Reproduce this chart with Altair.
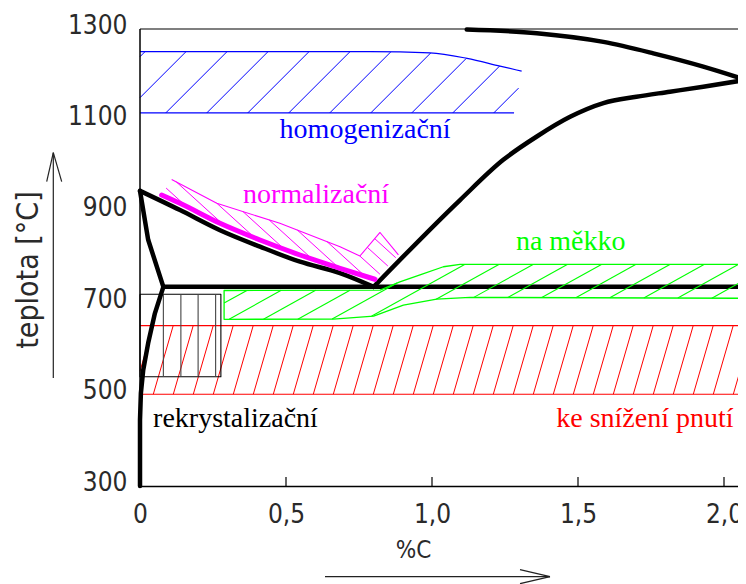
import math
import altair as alt
import pandas as pd

# ---------------- axes ----------------
X_LABEL_VALUES = [0, 0.5, 1.0, 1.5, 2.0]
X_TICK_VALUES = [0.5, 1.0, 1.5, 2.0]
Y_LABEL_VALUES = [300, 500, 700, 900, 1100, 1300]
W, H = 598, 461
XMAX = W / 292.0
YMIN = 291.25
YMAX = 1300
FRAME_T = 1291.25

# ---------------- phase diagram lines (c = %C, T = deg C) ----------------
GS_C = [0, 0.137, 0.274, 0.411, 0.548, 0.685, 0.80]
GS_T = [937, 895, 851, 815, 782, 757, 727]
GP_C = [0, 0.028, 0.08]
GP_T = [937, 830, 727]
PQ_C = [0.08, 0.051, 0.028, 0.011, 0.003, 0, 0]
PQ_T = [727, 669, 604, 545, 494, 436, 291.25]
PSK_C = [0.08, 2.1]
PSK_T = [727, 727]
SE_C = [0.80, 1.096, 1.244, 1.359, 1.473, 1.587, 1.70, 1.815, 1.929, 2.075]
SE_T = [727, 917, 1005, 1056, 1099, 1129, 1143, 1154, 1165, 1180]
AE_C = [1.119, 1.359, 1.587, 1.758, 1.929, 2.075]
AE_T = [1290, 1282, 1263, 1238, 1209, 1180]

# ---------------- annealing regions ----------------
# homogenizacni (blue)
BLUE_TOP_C = [0, 0.788, 0.993, 1.12, 1.233, 1.307]
BLUE_TOP_T = [1241.6, 1241.6, 1239, 1227, 1210, 1199]
BLUE_BOT_C = [0, 1.281]
BLUE_BOT_T = [1107.5, 1107.5]
# normalizacni (magenta)
MAG_UP_C = [0.1085, 0.263, 0.479, 0.685, 0.753, 0.822, 0.885]
MAG_UP_T = [962, 910, 866, 815, 794.5, 846, 797]
MAG_THICK_C = [0.074, 0.137, 0.274, 0.411, 0.548, 0.685, 0.805]
MAG_THICK_T = [928, 909.8, 866, 829.5, 796.7, 767.6, 743.5]
# na mekko (green)
GREEN_TOP_C = [0.288, 0.822, 0.89, 0.959, 1.039, 1.096, 2.1]
GREEN_TOP_T = [719, 720, 738, 753, 771, 776, 776]
GREEN_BOT_C = [0.288, 0.662, 0.80, 0.902, 1.016, 1.13, 2.1]
GREEN_BOT_T = [656, 656.5, 663, 687, 700, 704, 702]
# ke snizeni pnuti (red)
RED_C = [0, 2.1]
RED_LOW_T = 492
RED_HIGH_T = 642
# rekrystalizacni (black box)
REK_C = [0, 0.277]
REK_T = [530.4, 710.7]
REK_LINES_C = [0.080, 0.140, 0.199, 0.259]

# ---------------- labels ----------------
LABELS = ["homogenizační", "normalizační", "na měkko", "rekrystalizační", "ke snížení pnutí"]
LABEL_C = [0.771, 0.603, 1.475, 0.327, 1.729]
LABEL_T = [1053, 910, 808, 421, 421]
LABEL_COL = ["#0000ff", "#ff00ff", "#00ff00", "#000000", "#ff0000"]

# arrows next to axis titles (pixel positions relative to plot origin)
ARROWS = [(-86.7, 353, -86.7, 127.7), (-86.7, 127.7, -93.3, 156.7), (-86.7, 127.7, -78.3, 156.7),
          (185, 551.7, 410, 551.7), (410, 551.7, 380, 544.7), (410, 551.7, 380, 558.7)]

CAD = "Liberation Sans Narrow, DejaVu Sans Condensed, sans-serif"
SERIF = "Liberation Serif, Times New Roman, serif"
AXIS_COL = "#2a2a2a"

PX = W / XMAX
PY = H / (YMAX - YMIN)

xs = alt.Scale(domain=[0, XMAX], nice=False, zero=False)
ys = alt.Scale(domain=[YMIN, YMAX], nice=False, zero=False)

xaxis = alt.Axis(values=X_LABEL_VALUES,
                 labelExpr="datum.value == 0 ? '0' : replace(format(datum.value, '.1f'), '.', ',')",
                 ticks=False, grid=False, domain=True, domainColor="#000", domainWidth=1.5,
                 labelFont=CAD, labelFontSize=26, labelColor=AXIS_COL, labelPadding=36,
                 labelBaseline="alphabetic", labelFlush=False, labelOverlap=False,
                 title="%C", titleFont=CAD, titleFontSize=24, titleFontWeight="normal",
                 titleColor=AXIS_COL, titleX=273, titleY=64, titleBaseline="middle", titleAlign="center")
yaxis = alt.Axis(values=Y_LABEL_VALUES, format="d", ticks=False, grid=False, domain=False,
                 labelFont=CAD, labelFontSize=26, labelColor=AXIS_COL, labelPadding=13,
                 labelBaseline="middle", labelFlush=False, labelOverlap=False,
                 title="teplota [°C]", titleFont=CAD, titleFontSize=30, titleFontWeight="normal",
                 titleColor=AXIS_COL, titleAngle=270, titleX=-112, titleY=244.5,
                 titleAlign="center", titleBaseline="middle")


def X(f="c"):
    return alt.X(f"{f}:Q", scale=xs, axis=xaxis)


def Y(f="T"):
    return alt.Y(f"{f}:Q", scale=ys, axis=yaxis)


def hatch(poly, k, spacing, through, slash=True):
    """hatch line segments (data coords) clipping a family of parallel lines to polygon"""
    sgn = -1 if slash else 1
    P = [(c * PX, t * PY) for c, t in poly]
    v = [x + sgn * k * y for x, y in P]
    d0 = through[0] * PX + sgn * k * through[1] * PY
    segs = []
    n0 = math.ceil((min(v) - d0) / spacing)
    n1 = math.floor((max(v) - d0) / spacing)
    for n in range(n0, n1 + 1):
        d = d0 + n * spacing
        pts = []
        for i in range(len(P)):
            j = (i + 1) % len(P)
            f1, f2 = v[i] - d, v[j] - d
            if (f1 < 0) != (f2 < 0):
                t = f1 / (f1 - f2)
                pts.append((P[i][0] + t * (P[j][0] - P[i][0]), P[i][1] + t * (P[j][1] - P[i][1])))
        pts.sort(key=lambda p: p[1])
        for a, b in zip(pts[0::2], pts[1::2]):
            segs.append(dict(c=a[0] / PX, T=a[1] / PY, c2=b[0] / PX, T2=b[1] / PY))
    return segs


def poly_line(cs, ts, color, width, interp="linear", cap="round"):
    df = pd.DataFrame({"c": cs, "T": ts, "o": list(range(len(cs)))})
    return alt.Chart(df).mark_line(color=color, strokeWidth=width, interpolate=interp,
                                   strokeCap=cap, strokeJoin="round").encode(
        x=X(), y=Y(), order="o:Q")


def seg_layer(segs, color, width):
    df = pd.DataFrame(segs)
    return alt.Chart(df).mark_rule(color=color, strokeWidth=width).encode(
        x=X("c"), y=Y("T"), x2="c2:Q", y2="T2:Q")


layers = []

# red region
red_poly = [(RED_C[0], RED_LOW_T), (RED_C[1], RED_LOW_T), (RED_C[1], RED_HIGH_T), (RED_C[0], RED_HIGH_T)]
layers.append(seg_layer(hatch(red_poly, 0.29, 20, (0.7305, RED_LOW_T), slash=True), "#ff0000", 1))
layers.append(poly_line(RED_C, [RED_LOW_T] * 2, "#ff0000", 1.2, cap="butt"))
layers.append(poly_line(RED_C, [RED_HIGH_T] * 2, "#ff0000", 1.2, cap="butt"))

# rekrystalizacni box
rc = [REK_C[0], REK_C[1], REK_C[1], REK_C[0], REK_C[0]]
rt = [REK_T[1], REK_T[1], REK_T[0], REK_T[0], REK_T[1]]
layers.append(poly_line(rc, rt, "#000000", 1.1, cap="butt"))
layers.append(alt.Chart(pd.DataFrame({"c": REK_LINES_C, "T": [REK_T[0]] * 4, "T2": [REK_T[1]] * 4}))
              .mark_rule(color="#444444", strokeWidth=1.1).encode(x=X("c"), y=Y("T"), y2="T2:Q"))

# blue region
blue_poly = list(zip(BLUE_TOP_C, BLUE_TOP_T))[::-1] + [(0, BLUE_BOT_T[0]), (BLUE_BOT_C[1], BLUE_BOT_T[1])]
layers.append(seg_layer(hatch(blue_poly, 1.0, 41, (0.088, 1107.5), slash=True), "#0000ff", 1))
layers.append(poly_line(BLUE_TOP_C, BLUE_TOP_T, "#0000ff", 1.2, interp="monotone", cap="butt"))
layers.append(poly_line(BLUE_BOT_C, BLUE_BOT_T, "#0000ff", 1.2, cap="butt"))

# magenta region
mag_poly = list(zip(MAG_UP_C, MAG_UP_T)) + list(zip(MAG_THICK_C, MAG_THICK_T))[::-1]
layers.append(seg_layer(hatch(mag_poly, 1.1, 17, (0.263, 910), slash=False), "#ff00ff", 1))
layers.append(poly_line(MAG_UP_C, MAG_UP_T, "#ff00ff", 1.1, cap="butt"))

# black phase diagram lines
for cs, ts, it in [(GS_C, GS_T, "monotone"), (GP_C, GP_T, "linear"), (PQ_C, PQ_T, "linear"),
                   (PSK_C, PSK_T, "linear"), (SE_C, SE_T, "monotone"), (AE_C, AE_T, "monotone")]:
    layers.append(poly_line(cs, ts, "#000000", 4.5, interp=it))

# thick magenta
layers.append(poly_line(MAG_THICK_C, MAG_THICK_T, "#ff00ff", 5, interp="monotone"))

# green region
green_poly = list(zip(GREEN_TOP_C, GREEN_TOP_T)) + list(zip(GREEN_BOT_C, GREEN_BOT_T))[::-1]
layers.append(seg_layer(hatch(green_poly, 1.8, 34.2, (0.4223, 656), slash=True), "#00ff00", 1.1))
gc = GREEN_TOP_C[::-1] + GREEN_BOT_C
gt = GREEN_TOP_T[::-1] + GREEN_BOT_T
layers.append(poly_line(gc, gt, "#00ff00", 1.3, cap="butt"))

# region labels
lab = pd.DataFrame({"c": LABEL_C, "T": LABEL_T, "txt": LABELS, "col": LABEL_COL})
layers.append(alt.Chart(lab).mark_text(font=SERIF, fontSize=28, align="center", baseline="alphabetic")
              .encode(x=X(), y=Y(), text="txt:N", color=alt.Color("col:N", scale=None)))

# frame: top line, left axis line, inner ticks on x axis
layers.append(alt.Chart(pd.DataFrame({"c": [0], "c2": [XMAX], "T": [FRAME_T]}))
              .mark_rule(color="#000", strokeWidth=1.2).encode(x=X("c"), x2="c2:Q", y=Y("T")))
layers.append(alt.Chart(pd.DataFrame({"c": [0], "T": [YMIN], "T2": [FRAME_T]}))
              .mark_rule(color="#000", strokeWidth=1.5).encode(x=X("c"), y=Y("T"), y2="T2:Q"))
layers.append(alt.Chart(pd.DataFrame({"c": X_TICK_VALUES}))
              .mark_rule(color="#000", strokeWidth=1.2).encode(x=X("c"), y=alt.value(H), y2=alt.value(H - 9)))

# arrows
for (x1, y1, x2, y2) in ARROWS:
    layers.append(alt.Chart(pd.DataFrame({"a": [0]})).mark_rule(color="#222", strokeWidth=1.2).encode(
        x=alt.value(x1), y=alt.value(y1), x2=alt.value(x2), y2=alt.value(y2)))

chart = alt.layer(*layers).properties(
    width=W, height=H,
    padding={"left": 132, "top": 17, "right": 0, "bottom": 98},
    autosize=alt.AutoSizeParams(type="none"),
).configure_view(stroke=None)

chart.save("out.html", embed_options={"renderer": "svg", "actions": False})
